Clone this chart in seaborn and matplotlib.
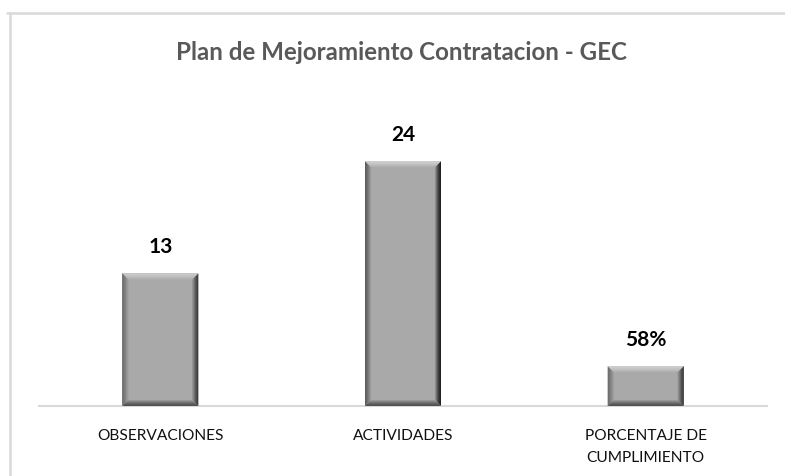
import numpy as np
import seaborn as sns
import matplotlib.pyplot as plt
from matplotlib.patches import Polygon
from matplotlib.lines import Line2D
from matplotlib.colors import to_rgb

# Data
categories = ["OBSERVACIONES", "ACTIVIDADES", "PORCENTAJE DE\nCUMPLIMIENTO"]
values = [13, 24, 3.9]
value_labels = ["13", "24", "58%"]
title = "Plan de Mejoramiento Contratacion - GEC"

BAR_FILL = "#a9a9a9"
EDGE_COLORS = {"left": "#5e5e5e", "right": "#1e1e1e", "top": "#d6d6d6", "bottom": "#505050"}
GRID_GRAY = "#d9d9d9"


def blend(c1, c2, t):
    a, b = np.array(to_rgb(c1)), np.array(to_rgb(c2))
    return tuple(a + (b - a) * t)


def add_bevel(ax, patch, depth=6):
    """Draw an Excel-like bevel inside a bar, computed from the bar patch."""
    x0, y0 = patch.get_x(), patch.get_y()
    x1, y1 = x0 + patch.get_width(), y0 + patch.get_height()
    (px0, py0), (px1, py1) = ax.transData.transform([(x0, y0), (x1, y1)])
    inv = ax.transData.inverted()
    d = min(depth, (py1 - py0) / 2 - 1)
    steps = 6
    for i in range(steps):
        a = d * i / steps
        b = d * (i + 1) / steps
        t = (i / steps) ** 1.3
        quads = {
            "left": [(px0 + a, py0 + a), (px0 + b, py0 + b), (px0 + b, py1 - b), (px0 + a, py1 - a)],
            "right": [(px1 - a, py0 + a), (px1 - b, py0 + b), (px1 - b, py1 - b), (px1 - a, py1 - a)],
            "top": [(px0 + a, py1 - a), (px0 + b, py1 - b), (px1 - b, py1 - b), (px1 - a, py1 - a)],
            "bottom": [(px0 + a, py0 + a), (px0 + b, py0 + b), (px1 - b, py0 + b), (px1 - a, py0 + a)],
        }
        for side, pts in quads.items():
            poly = Polygon(inv.transform(pts), closed=True,
                           facecolor=blend(EDGE_COLORS[side], BAR_FILL, t),
                           edgecolor="none", zorder=3)
            ax.add_patch(poly)


def main():
    sns.set_theme(style="white")
    plt.rcParams["font.family"] = ["Lato", "DejaVu Sans"]

    fig = plt.figure(figsize=(7.85, 4.77), dpi=100)
    ax = fig.add_axes([39 / 785, 70 / 477, 728 / 785, 285.6 / 477])

    sns.barplot(x=categories, y=values, color=BAR_FILL, saturation=1,
                width=0.313, ax=ax, zorder=2)
    ax.set_xlim(-0.5, 2.5)
    ax.set_ylim(0, 28)

    for patch in ax.patches[:len(values)]:
        patch.set_edgecolor("none")
    for patch in list(ax.patches[:len(values)]):
        add_bevel(ax, patch)

    for i, (v, lab) in enumerate(zip(values, value_labels)):
        ax.annotate(lab, (i, v), xytext=(0, 19.5), textcoords="offset points",
                    ha="center", va="center", fontsize=15, fontweight="bold",
                    color="black")

    for side in ["top", "right", "left"]:
        ax.spines[side].set_visible(False)
    ax.spines["bottom"].set_color(GRID_GRAY)
    ax.spines["bottom"].set_linewidth(1.5)
    ax.set_yticks([])
    ax.tick_params(axis="x", length=0, pad=16, labelsize=11.2, labelcolor="#111111")
    for lbl in ax.get_xticklabels():
        lbl.set_linespacing(1.75)
    ax.set_xlabel("")
    ax.set_ylabel("")

    fig.text(401 / 785, 1 - 52 / 477, title, ha="center", va="center",
             fontsize=17.4, fontweight="bold", color="#595959")

    # light chart-area frame (top and left edges visible in the reference)
    fig.add_artist(Line2D([7 / 785, 1], [1 - 14 / 477, 1 - 14 / 477],
                          color=GRID_GRAY, lw=1.8, transform=fig.transFigure))
    fig.add_artist(Line2D([10 / 785, 10 / 785], [0, 1 - 14 / 477],
                          color=GRID_GRAY, lw=1.8, transform=fig.transFigure))

    fig.savefig("out.png", dpi=100, facecolor="white")


if __name__ == "__main__":
    main()
